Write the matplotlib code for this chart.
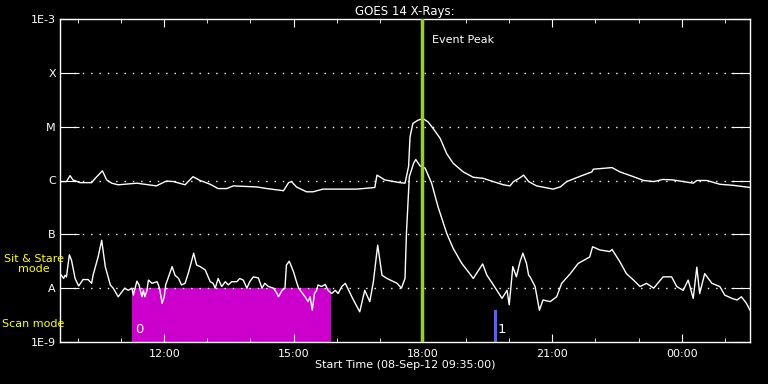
import numpy as np
import matplotlib.pyplot as plt

# minutes after start (08-Sep-12 09:35) and log10 flux (W/m^2)
long_min = [0, 9, 14, 18, 28, 44, 49, 59, 65, 72, 81, 107, 134, 148, 158, 174, 185, 195,
            209, 220, 232, 241, 274, 288, 311, 318, 322, 329, 343, 352, 366, 390, 413, 438,
            441, 452, 473, 480, 485, 487, 491, 498, 505, 512, 519, 529, 538, 547, 561, 575,
            589, 598, 617, 626, 631, 640, 645, 652, 663, 686, 696, 705, 724, 740, 742, 768,
            779, 798, 812, 826, 839, 853, 872, 881, 886, 900, 918, 937, 960]
long_log = [-6.02, -6.02, -5.91, -5.99, -6.04, -6.04, -5.96, -5.82, -5.99, -6.05, -6.08,
            -6.05, -6.10, -6.01, -6.02, -6.08, -5.93, -6.00, -6.07, -6.15, -6.15, -6.10,
            -6.12, -6.15, -6.19, -6.04, -6.02, -6.12, -6.21, -6.21, -6.16, -6.16, -6.16,
            -6.13, -5.90, -5.99, -6.04, -6.05, -5.74, -5.19, -4.94, -4.88, -4.85, -4.91,
            -5.03, -5.22, -5.50, -5.68, -5.84, -5.94, -5.96, -6.00, -6.08, -6.10, -6.02,
            -5.95, -5.90, -6.02, -6.10, -6.16, -6.12, -6.02, -5.92, -5.84, -5.79, -5.76,
            -5.84, -5.93, -6.00, -6.02, -5.98, -5.99, -6.03, -6.05, -6.00, -6.00, -6.07,
            -6.09, -6.13]

short_min = [2, 5, 7, 9, 13, 16, 21, 26, 32, 39, 44, 46, 53, 58, 63, 70, 74, 81,
             90, 95, 100, 102, 107, 110, 111, 114, 116, 118, 121, 123, 128, 135, 137, 139,
             142, 145, 147, 151, 156, 160, 165, 169, 174, 179, 186, 190, 195, 202, 209, 213,
             216, 220, 225, 230, 234, 239, 246, 250, 255, 260, 264, 269, 276, 281, 285, 290,
             297, 302, 304, 309, 313, 315, 319, 325, 329, 332, 336, 341, 345, 348, 351, 354,
             357, 359, 364, 369, 373, 378, 383, 387, 392, 397,
             406, 417, 424, 431, 436, 442, 448, 455, 469, 475, 480, 482, 486, 492, 495, 501,
             508, 517, 526, 538, 547, 559, 570, 575, 588, 594, 603, 615, 622, 625, 630, 635,
             640, 644, 649, 652, 654, 661, 667, 672, 682, 691, 698, 710, 721, 737, 741, 751,
             765, 768, 779, 788, 798, 807, 816, 826, 839, 851, 858, 867, 874, 881, 886, 890,
             897, 907, 918, 925, 935, 942, 948, 955, 960]
short_log = [-7.76, -7.82, -7.76, -7.79, -7.38, -7.48, -7.82, -7.96, -7.84, -7.84, -7.91,
             -7.76, -7.42, -7.11, -7.60, -7.94, -8.00, -8.16,
             -8.00, -8.04, -8.00, -8.13, -7.87, -7.94, -8.00, -8.16, -8.04, -8.16,
             -8.04, -7.85, -7.91, -7.88, -7.94, -8.04, -8.28, -8.16, -7.94, -7.79,
             -7.60, -7.76, -7.82, -7.94, -7.91, -7.70, -7.35, -7.57, -7.60, -7.66,
             -7.88, -7.91, -8.00, -7.82, -7.97, -7.88, -7.94, -7.88, -7.88, -7.82,
             -7.85, -8.00, -7.88, -7.79, -7.81, -8.00, -7.91, -7.97, -8.00, -8.10,
             -8.16, -8.04, -8.00, -7.57, -7.50, -7.70, -7.88, -8.00, -8.07, -8.16,
             -8.25, -8.16, -8.41, -8.10, -8.04, -7.94, -7.97, -7.93, -8.04, -8.10,
             -8.04, -8.10, -7.97, -7.91,
             -8.16, -8.44, -8.04, -8.25, -7.88, -7.20, -7.76, -7.82, -7.91, -8.00, -7.82,
             -6.98, -5.93, -5.68, -5.61, -5.73, -5.77, -6.05, -6.49, -6.98, -7.26, -7.54,
             -7.73, -7.82, -7.55, -7.76, -7.94, -8.19, -8.04, -8.31, -7.60, -7.79, -7.51,
             -7.35, -7.54, -7.76, -7.79, -7.97, -8.41, -8.22, -8.25, -8.16, -7.91, -7.73,
             -7.54, -7.42, -7.23, -7.29, -7.32, -7.28, -7.51, -7.73, -7.85, -7.97, -7.91,
             -8.00, -7.79, -7.79, -7.97, -8.04, -7.85, -8.19, -7.61, -8.10, -7.73, -7.91,
             -7.97, -8.13, -8.19, -8.22, -8.16, -8.28, -8.41]

scan_start, scan_end = 100, 377       # scan mode, minutes
event_peak = 504                      # minutes
blue_mark = [604, 608]
tick_min = [145, 325, 505, 685, 865]
tick_lab = ['12:00', '15:00', '18:00', '21:00', '00:00']
ylevels = [1e-9, 1e-8, 1e-7, 1e-6, 1e-5, 1e-4, 1e-3]
ylabels = ['1E-9', 'A', 'B', 'C', 'M', 'X', '1E-3']

fig = plt.figure(figsize=(7.68, 3.84), dpi=100, facecolor='black')
ax = fig.add_axes([60/768, 1-342/384, 690/768, 323/384], facecolor='black')
ax.set_yscale('log')
ax.set_xlim(0, 960)
ax.set_ylim(1e-9, 1e-3)

ax.fill_between([scan_start, scan_end], 1e-9, 1e-8, color='#cc00cc', lw=0, zorder=1)
ax.fill_between(blue_mark, 1e-9, 10**-8.41, color='#5c5cff', lw=0, zorder=1)
ax.text(scan_start + 5, 1.5e-9, '0', color='white', fontsize=9.5, zorder=3)
ax.text(blue_mark[1] + 1, 1.5e-9, '1', color='white', fontsize=9.5, zorder=3)

for lv in ylevels[1:-1]:
    ax.plot([20, 960], [lv, lv], color='white', lw=1, ls=(0, (1, 5)), zorder=1)

ax.plot(long_min, 10**np.array(long_log), color='white', lw=1, zorder=2)
ax.plot(short_min, 10**np.array(short_log), color='white', lw=1, zorder=2)

ax.axvline(event_peak, color='#9acd32', lw=2.5, zorder=3)
ax.text(event_peak + 14, 10**-3.45, 'Event Peak', color='white', fontsize=8)

ax.set_yticks(ylevels)
ax.set_yticklabels(ylabels)
ax.yaxis.set_minor_locator(plt.NullLocator())
ax.set_xticks(tick_min)
ax.set_xticklabels(tick_lab)
ax.set_xticks(np.arange(25, 960, 60), minor=True)
ax.tick_params(axis='y', which='major', direction='in', length=14, color='white',
               labelcolor='white', labelsize=8, right=True, pad=3)
ax.tick_params(axis='x', which='major', direction='in', length=6, color='white',
               labelcolor='white', labelsize=8, top=True, pad=5)
ax.tick_params(axis='x', which='minor', direction='in', length=3, color='white', top=True)
for s in ax.spines.values():
    s.set_color('white')
    s.set_linewidth(1)

ax.set_title('GOES 14 X-Rays:', color='white', fontsize=8.5, pad=3)
ax.set_xlabel('Start Time (08-Sep-12 09:35:00)', color='white', fontsize=8, labelpad=1)
fig.text(34/768, 1-264/384, 'Sit & Stare\nmode', color='yellow', fontsize=8,
         ha='center', va='center', linespacing=1.0)
fig.text(2/768, 1-324/384, 'Scan mode', color='yellow', fontsize=8, ha='left', va='center')

fig.savefig('out.png', dpi=100, facecolor='black')
